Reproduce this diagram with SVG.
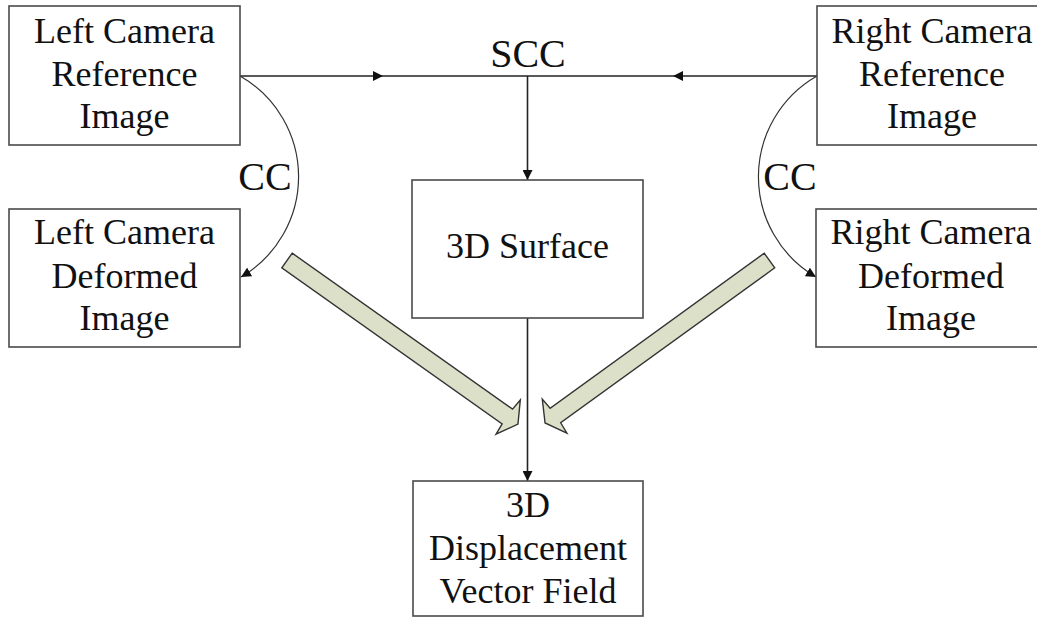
<svg xmlns="http://www.w3.org/2000/svg" width="1037" height="620" viewBox="0 0 1037 620">
  <style>
    .box { fill: #ffffff; stroke: #4a4a4a; stroke-width: 1.6; }
    .label { font-family: "Liberation Serif", "Times New Roman", serif; font-size: 36px; fill: #111; text-anchor: middle; }
    .tag { font-family: "Liberation Serif", "Times New Roman", serif; font-size: 40px; fill: #111; text-anchor: middle; }
    .wire { fill: none; stroke: #222; stroke-width: 1.6; }
    .arc { fill: none; stroke: #333; stroke-width: 1.2; }
    .block { fill: #dde0c9; stroke: #333; stroke-width: 1.4; stroke-linejoin: miter; }
  </style>
  <defs>
    <marker id="tri" viewBox="0 0 10 10" refX="10" refY="5" markerWidth="10" markerHeight="10" markerUnits="userSpaceOnUse" orient="auto">
      <path d="M0,0 L10,5 L0,10 Z" fill="#111"/>
    </marker>
    <marker id="triMid" viewBox="0 0 10 10" refX="5" refY="5" markerWidth="10" markerHeight="10" markerUnits="userSpaceOnUse" orient="auto">
      <path d="M0,0 L10,5 L0,10 Z" fill="#111"/>
    </marker>
    <!-- block arrow shape, drawn along +x with its tail centred at the origin -->
    <path id="fat" d="M0,-9 L270,-9 L271,-21 L283,0 L271,21 L270,9 L0,9 Z"/>
  </defs>

  <!-- connectors -->
  <g id="connectors">
    <!-- SCC bar between the two reference images -->
    <path class="wire" d="M240,76 L383,76"  marker-end="url(#tri)"/>
    <path class="wire" d="M383,76 L673,76"/>
    <path class="wire" d="M817,76 L673,76" marker-end="url(#tri)"/>
    <path class="wire" d="M527.5,76 L527.5,180" marker-end="url(#tri)"/>
    <path class="wire" d="M527.5,318 L527.5,481" stroke="#555" marker-end="url(#tri)"/>
    <!-- CC arcs -->
    <path class="arc" d="M240,76 A116,116 0 0 1 241,277" marker-end="url(#tri)"/>
    <path class="arc" d="M817,76 A116,116 0 0 0 816,277" marker-end="url(#tri)"/>
    <!-- block arrows into the displacement field -->
    <use href="#fat" class="block" transform="translate(287,260.5) rotate(35.3)"/>
    <use href="#fat" class="block" transform="translate(769.5,260.5) rotate(144.1) scale(0.979,1)"/>
    <text class="tag" x="528" y="67">SCC</text>
    <text class="tag" x="265" y="190">CC</text>
    <text class="tag" x="790" y="190">CC</text>
  </g>

  <g id="left-reference">
    <rect class="box" x="9" y="6" width="231" height="139"/>
    <text class="label" x="124.5" y="43">Left Camera</text>
    <text class="label" x="124.5" y="86">Reference</text>
    <text class="label" x="124.5" y="128">Image</text>
  </g>

  <g id="right-reference">
    <rect class="box" x="817" y="6" width="231" height="139"/>
    <text class="label" x="932" y="43">Right Camera</text>
    <text class="label" x="932" y="86">Reference</text>
    <text class="label" x="932" y="128">Image</text>
  </g>

  <g id="left-deformed">
    <rect class="box" x="9" y="209" width="231" height="138"/>
    <text class="label" x="124.5" y="244">Left Camera</text>
    <text class="label" x="124.5" y="288">Deformed</text>
    <text class="label" x="124.5" y="330">Image</text>
  </g>

  <g id="right-deformed">
    <rect class="box" x="816" y="209" width="231" height="138"/>
    <text class="label" x="931" y="244">Right Camera</text>
    <text class="label" x="931" y="288">Deformed</text>
    <text class="label" x="931" y="330">Image</text>
  </g>

  <g id="surface">
    <rect class="box" x="412" y="180" width="231" height="138"/>
    <text class="label" x="527.5" y="258">3D Surface</text>
  </g>

  <g id="displacement">
    <rect class="box" x="413" y="481" width="230" height="135"/>
    <text class="label" x="528" y="517">3D</text>
    <text class="label" x="528" y="560">Displacement</text>
    <text class="label" x="528" y="603">Vector Field</text>
  </g>
</svg>
